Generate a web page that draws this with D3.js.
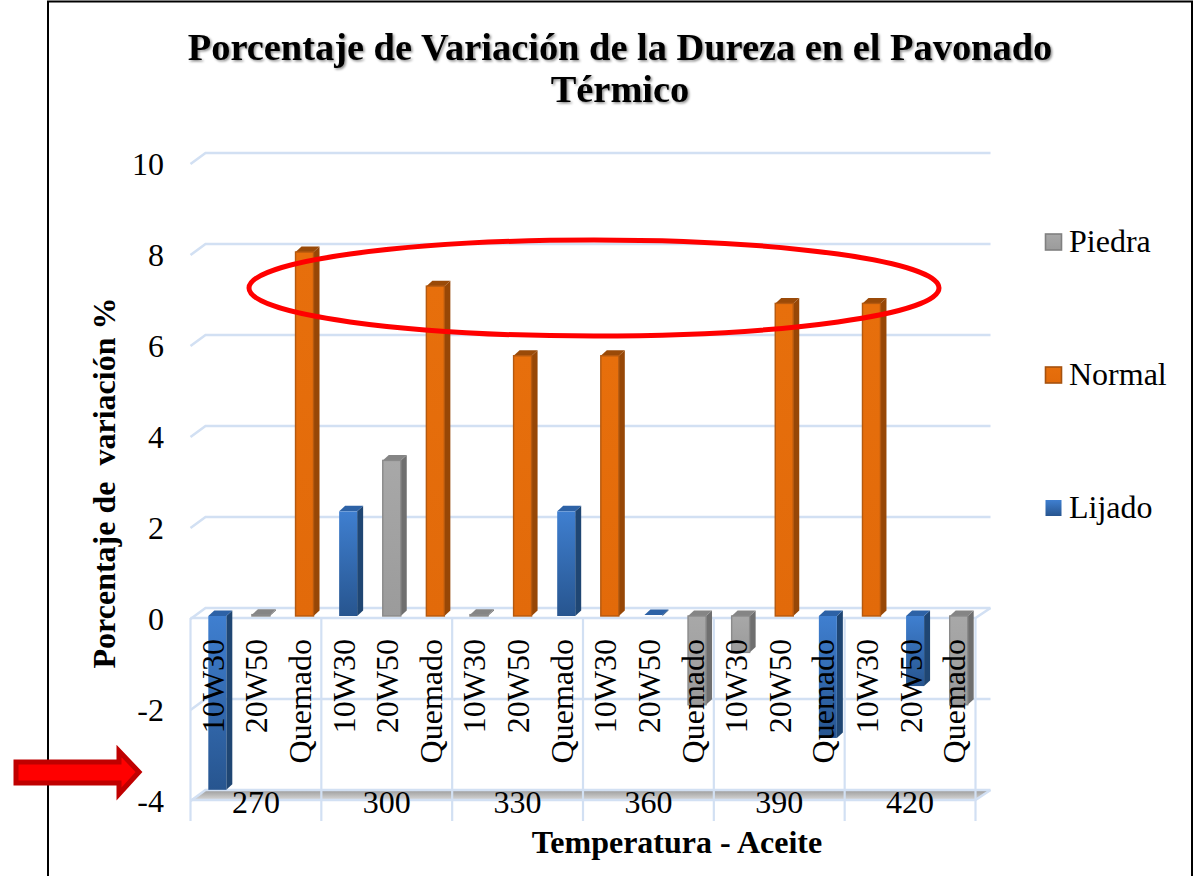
<!DOCTYPE html>
<html><head><meta charset="utf-8">
<script src="https://cdn.jsdelivr.net/npm/d3@7"></script>
<style>html,body{margin:0;padding:0;background:#fff}svg{display:block}text{font-family:"Liberation Serif","Times New Roman",serif;fill:#000}</style>
</head><body><svg id="c" width="1203" height="876"></svg>
<script>
const groups = ["270","300","330","360","390","420"];
const oils = ["10W30","20W50","Quemado"];
const lijado = [-3.82,null,null, 2.3,null,null, null,null,2.3, null,0.02,null, null,null,-2.68, null,-1.54,null];
const piedra = [null,0.03,null, null,3.42,null, 0.03,null,null, null,null,-1.95, -0.8,null,null, null,null,-1.95];
const normal = [null,null,8.0, null,null,7.25, null,5.72,null, 5.72,null,null, null,6.87,null, 6.87,null,null];
const legendNames = ["Piedra","Normal","Lijado"];
const yTicks = [10,8,6,4,2,0,-2,-4];
const titleLines = ["Porcentaje de Variación de la Dureza en el Pavonado","Térmico"];
const yTitle = "Porcentaje de  variación %";
const xTitle = "Temperatura - Aceite";

const svg = d3.select("#c");
const defs = svg.append("defs");
const grid = "#d2e0f3";
const dx = 15, dy = 10;
const styles = {
  Lijado:{a:"#3f7fd0",b:"#27558f",side:"#1f4673",top:"#2d62a6"},
  Normal:{a:"#e76f0c",b:"#e26a0a",side:"#974706",top:"#9a4a08"},
  Piedra:{a:"#a8a8a8",b:"#9b9b9b",side:"#6f6f6f",top:"#858585"}
};
Object.entries(styles).forEach(([k,s])=>{
  const g=defs.append("linearGradient").attr("id","g"+k).attr("x1",0).attr("y1",0).attr("x2",0).attr("y2",1);
  g.append("stop").attr("offset",0).attr("stop-color",s.a);
  g.append("stop").attr("offset",1).attr("stop-color",s.b);
});
const fg=defs.append("linearGradient").attr("id","floor").attr("x1",0).attr("y1",0).attr("x2",0).attr("y2",1);
fg.append("stop").attr("offset",0).attr("stop-color","#9a9a9a");
fg.append("stop").attr("offset",1).attr("stop-color","#d8d8d8");
const sh=defs.append("filter").attr("id","ts").attr("x","-5%").attr("y","-20%").attr("width","110%").attr("height","140%");
sh.append("feDropShadow").attr("dx",1.5).attr("dy",1.5).attr("stdDeviation",0.8).attr("flood-color","#000").attr("flood-opacity",0.45);

// page frame
svg.append("path").attr("d","M48,876V1.5H1192V876").attr("fill","none").attr("stroke","#000").attr("stroke-width",2);

const cats = d3.range(groups.length*oils.length);
const x = d3.scaleBand().domain(cats).range([190.5,975.5]);
const xG = d3.scaleBand().domain(groups).range([190.5,975.5]);
const y = d3.scaleLinear().domain([-4,10]).range([800,163]);

// floor
svg.append("path").attr("d",`M190.5,${y(-4)}L${190.5+dx},${y(-4)-dy}H${975.5+dx}L975.5,${y(-4)}Z`).attr("fill","url(#floor)");
const gridG = svg.append("g").attr("fill","none").attr("stroke",grid).attr("stroke-width",2.6);
yTicks.forEach(t=>{
  const yy=y(t);
  gridG.append("path").attr("d",`M${x.range()[0]},${yy+1}L${x.range()[0]+dx},${yy-dy}H${x.range()[1]+dx}`);
});
gridG.append("path").attr("d",`M190.5,${y(0)}H975.5M190.5,${y(-4)}H975.5M975.5,${y(0)}L${975.5+dx},${y(0)-dy}M975.5,${y(-4)}L${975.5+dx},${y(-4)-dy}`);
// group separators
const seps=svg.append("g").attr("stroke",grid).attr("stroke-width",2.2);
groups.forEach(g=>seps.append("line").attr("x1",xG(g)).attr("x2",xG(g)).attr("y1",y(0)).attr("y2",821));
seps.append("line").attr("x1",975.5).attr("x2",975.5).attr("y1",y(0)).attr("y2",821);

// bars
const barW=18, off=-4;
function bars(name,vals){
  const s=styles[name];
  const g=svg.append("g").attr("class","s-"+name);
  vals.forEach((v,i)=>{
    if(v===null) return;
    const x0=x(i)+x.bandwidth()/2+off, x1=x0+barW, y0=y(0)-2;
    const yv=y(v)-2, yt=Math.min(y0,yv), yb=Math.max(y0,yv);
    const d=6, h=5.5;
    g.append("path").attr("d",`M${x1},${yt}L${x1+d},${yt-h}V${yb-h}L${x1},${yb}Z`).attr("fill",s.side);
    g.append("path").attr("d",`M${x0},${yt}L${x0+d},${yt-h}H${x1+d}L${x1},${yt}Z`).attr("fill",s.top);
    if(yb-yt>1) g.append("rect").attr("x",x0).attr("y",yt).attr("width",barW).attr("height",yb-yt)
      .attr("fill",`url(#g${name})`).attr("stroke",name==="Normal"?"#b5590f":name==="Piedra"?"#8a8a8a":"none").attr("stroke-width",1.4);
  });
}
bars("Lijado",lijado);bars("Piedra",piedra);bars("Normal",normal);

// y ticks
svg.append("g").selectAll("text").data(yTicks).join("text")
  .attr("x",164).attr("y",d=>y(d)+12).attr("text-anchor","end").attr("font-size",32).text(d=>d);

// category labels
svg.append("g").selectAll("text").data(cats).join("text")
  .attr("text-anchor","end").attr("font-size",32)
  .attr("transform",i=>`translate(${x(i)+x.bandwidth()/2+11.5},639) rotate(-90)`)
  .text(i=>oils[i%3]);
svg.append("g").selectAll("text").data(groups).join("text")
  .attr("x",g=>xG(g)+xG.bandwidth()/2).attr("y",813).attr("text-anchor","middle").attr("font-size",32).text(g=>g);

// titles
svg.append("text").attr("x",620).attr("y",60).attr("text-anchor","middle").attr("font-size",38.4).attr("font-weight","bold").attr("filter","url(#ts)").text(titleLines[0]);
svg.append("text").attr("x",620).attr("y",102).attr("text-anchor","middle").attr("font-size",38.4).attr("font-weight","bold").attr("filter","url(#ts)").text(titleLines[1]);
svg.append("text").attr("transform","translate(115,483) rotate(-90)").attr("text-anchor","middle").attr("font-size",32).attr("font-weight","bold").attr("xml:space","preserve").text(yTitle);
svg.append("text").attr("x",677).attr("y",853).attr("text-anchor","middle").attr("font-size",32).attr("font-weight","bold").text(xTitle);

// legend
const legY=d3.scalePoint().domain(legendNames).range([242,508]);
const lg=svg.append("g").selectAll("g").data(legendNames).join("g").attr("transform",d=>`translate(1045,${legY(d)})`);
lg.append("rect").attr("x",0.5).attr("y",-8).attr("width",16).attr("height",16)
  .attr("fill",d=>`url(#g${d})`).attr("stroke",d=>d==="Normal"?"#a5520f":d==="Piedra"?"#808080":"none").attr("stroke-width",1.6);
lg.append("text").attr("x",24).attr("y",10).attr("font-size",32).text(d=>d);

// annotations
svg.append("ellipse").attr("cx",594).attr("cy",288).attr("rx",345).attr("ry",48).attr("fill","none").attr("stroke","#ff0000").attr("stroke-width",5);
svg.append("path").attr("d","M16,762H119V751L139,772L119,794V783H16Z").attr("fill","#ff0000").attr("stroke","#c00000").attr("stroke-width",5);
</script></body></html>
